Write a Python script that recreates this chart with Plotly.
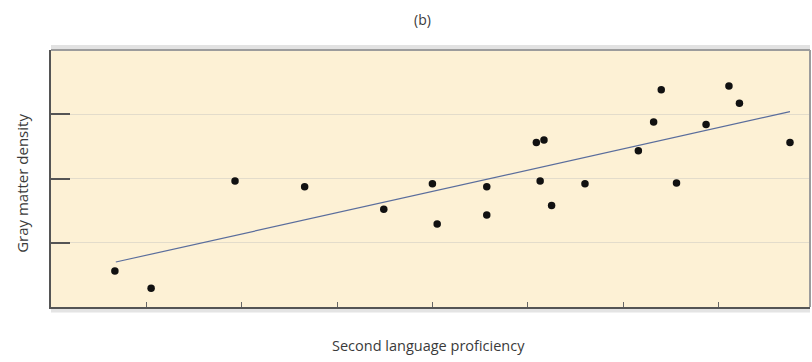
import plotly.graph_objects as go

# Data (x: second language proficiency, y: gray matter density)
prof_x = [0.67, 1.05, 1.93, 2.66, 3.49, 4.00, 4.05, 4.57, 4.57, 5.09, 5.17, 5.13,
          5.25, 5.60, 6.16, 6.32, 6.40, 6.56, 6.87, 7.11, 7.22, 7.75]
density_y = [0.56, 0.29, 1.96, 1.87, 1.52, 1.92, 1.29, 1.87, 1.43, 2.56, 2.60, 1.96,
             1.58, 1.92, 2.43, 2.88, 3.38, 1.93, 2.84, 3.44, 3.17, 2.56]
fit_x = [0.68, 7.75]
fit_y = [0.70, 3.04]
x_ticks = [1, 2, 3, 4, 5, 6, 7]
y_ticks = [1, 2, 3, 4]

FONT = "Open Sans, Liberation Sans, Arial, sans-serif"

fig = go.Figure()
fig.add_trace(go.Scatter(x=fit_x, y=fit_y, mode="lines",
                         line=dict(color="#5a6d9c", width=1.2), hoverinfo="skip"))
fig.add_trace(go.Scatter(x=prof_x, y=density_y, mode="markers",
                         marker=dict(color="#111111", size=7.5)))

# frame shadow / top and right edges
fig.add_shape(type="line", xref="paper", yref="paper", x0=0, x1=1, y0=1.012, y1=1.012,
              line=dict(color="#e2e2e2", width=4), layer="below")
fig.add_shape(type="line", xref="paper", yref="paper", x0=0, x1=1, y0=1, y1=1,
              line=dict(color="#9c9c9c", width=2))
fig.add_shape(type="line", xref="paper", yref="paper", x0=1, x1=1, y0=0, y1=1,
              line=dict(color="#9c9c9c", width=2))
fig.add_shape(type="line", xref="paper", yref="paper", x0=0, x1=1, y0=-0.014, y1=-0.014,
              line=dict(color="#e4e4e4", width=4), layer="below")

fig.add_annotation(text="(b)", xref="paper", yref="paper", x=0.490, y=1.117,
                   xanchor="center", yanchor="middle", showarrow=False,
                   font=dict(family=FONT, size=14, color="#3a3a3a"))
fig.add_annotation(text="Second language proficiency", xref="paper", yref="paper",
                   x=0.497, y=-0.148, xanchor="center", yanchor="middle", showarrow=False,
                   font=dict(family=FONT, size=14.5, color="#3a3a3a"))
fig.add_annotation(text="Gray matter density", xref="paper", yref="paper",
                   x=-0.0386, y=0.482, xanchor="center", yanchor="middle",
                   textangle=-90, showarrow=False,
                   font=dict(family=FONT, size=15, color="#3a3a3a"))

fig.update_layout(
    width=812, height=362,
    margin=dict(l=51, r=2, t=50, b=55),
    paper_bgcolor="white",
    plot_bgcolor="#fdf1d5",
    showlegend=False,
    xaxis=dict(range=[0, 7.96], tickvals=x_ticks, showticklabels=False,
               ticks="inside", ticklen=5, tickwidth=1, tickcolor="#666666",
               showgrid=False, zeroline=False, showline=True, linecolor="#555555",
               linewidth=2, fixedrange=True),
    yaxis=dict(range=[0, 4], tickvals=y_ticks, showticklabels=False,
               ticks="inside", ticklen=19, tickwidth=2, tickcolor="#555555",
               showgrid=True, gridcolor="#e3dccb", gridwidth=1, zeroline=False,
               showline=True, linecolor="#555555", linewidth=2, fixedrange=True),
)

fig.write_html("out.html", config={"displayModeBar": False},
               post_script="document.body.style.margin='0';")
